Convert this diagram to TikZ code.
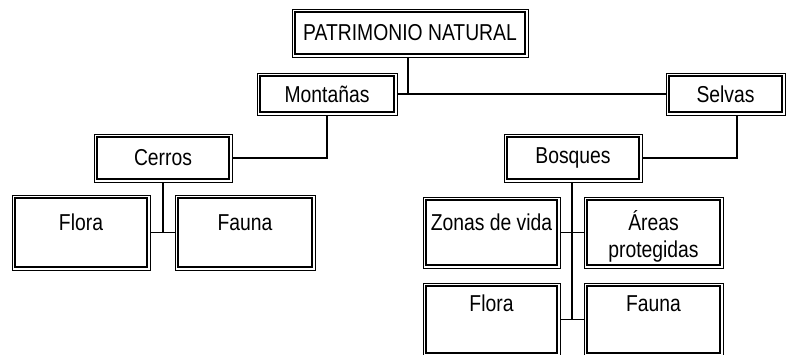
\documentclass[tikz,border=0pt]{standalone}
\usepackage{fontspec}
\setmainfont{Liberation Sans}[FakeStretch=0.84]
\newcommand{\toprule}[1]{\rule{0pt}{#1pt}}
\begin{document}
\begin{tikzpicture}[x=1pt,y=-1pt,
  box/.style={draw, line width=0.8pt, inner sep=0pt, fill=white,
    font=\fontsize{23}{27}\selectfont, align=center,
    path picture={\draw[line width=2pt]
      ([shift={(2.7pt,-2.7pt)}]path picture bounding box.north west) rectangle
      ([shift={(-2.7pt,2.7pt)}]path picture bounding box.south east);}},
  conn/.style={line width=1.2pt}]
\path[use as bounding box] (0,0) rectangle (793,355);
\clip (0,0) rectangle (793,355);
\node[box, minimum width=236, minimum height=48] (pat) at (410,33) {PATRIMONIO NATURAL};
\node[box, minimum width=140, minimum height=42] (mon) at (327,94) {Montañas};
\node[box, minimum width=119, minimum height=42] (sel) at (725.5,94) {Selvas};
\node[box, minimum width=138, minimum height=48] (cer) at (163,158) {Cerros};
\node[box, minimum width=138, minimum height=48] (bos) at (573,158) {Bosques};
\node[box, minimum width=138, minimum height=75] (flL) at (81,232.5) {\toprule{30.7}Flora\\ \strut};
\node[box, minimum width=140, minimum height=75] (faL) at (245,232.5) {\toprule{30.7}Fauna\\ \strut};
\node[box, minimum width=137, minimum height=71] (zon) at (491.5,232.5) {\toprule{30.7}Zonas de vida\\ \strut};
\node[box, minimum width=139, minimum height=71] (are) at (653.5,232.5) {\toprule{30.7}Áreas\\protegidas\strut};
\node[box, minimum width=137, minimum height=73] (flR) at (491.5,319.5) {\toprule{18.6}Flora\\ \strut};
\node[box, minimum width=139, minimum height=73] (faR) at (653.5,319.5) {\toprule{18.6}Fauna\\ \strut};
\draw[conn] ([xshift=-2pt]pat.south) |- (mon.east);
\draw[conn] (mon.east) -- (sel.west);
\draw[conn] (mon.south) |- (cer.east);
\draw[conn] ([xshift=11.5pt]sel.south) |- (bos.east);
\draw[conn] (cer.south) -- (cer.south |- flL.east);
\draw[conn] (flL.east) -- (faL.west);
\draw[conn] ([xshift=-1pt]bos.south) -- ([xshift=-1pt]bos.south |- flR.east);
\draw[conn] (zon.east) -- (are.west);
\draw[conn] (flR.east) -- (faR.west);
\end{tikzpicture}
\end{document}
